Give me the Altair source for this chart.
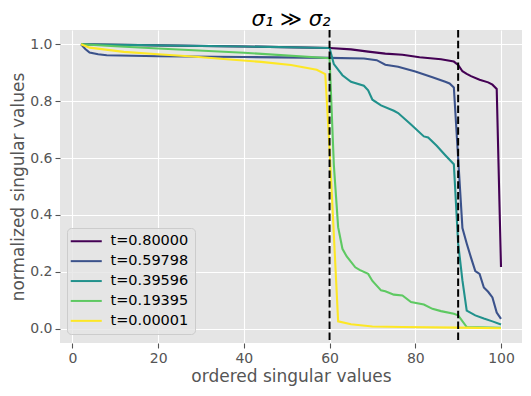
import altair as alt
import pandas as pd

# ---- data ----
labels = ["t=0.80000", "t=0.59798", "t=0.39596", "t=0.19395", "t=0.00001"]
colors = ["#440154", "#3b528b", "#21918c", "#5ec962", "#fde725"]

x_a = [2, 20, 40, 60, 65, 69, 73, 77, 81, 86, 89, 90, 91, 92, 93, 95, 97, 98, 99, 100]
y_a = [1.0, 0.996, 0.992, 0.987, 0.982, 0.974, 0.967, 0.963, 0.954, 0.947, 0.939, 0.927,
       0.905, 0.896, 0.888, 0.875, 0.866, 0.858, 0.843, 0.217]

x_b = [2, 3, 4, 6, 8, 20, 40, 60, 68, 71, 73, 76, 80, 84, 87, 88, 89, 90, 91, 92, 93,
       94, 95, 96, 97, 98, 99, 100]
y_b = [1.0, 0.983, 0.971, 0.965, 0.961, 0.958, 0.955, 0.952, 0.950, 0.944, 0.928, 0.921,
       0.904, 0.884, 0.868, 0.862, 0.848, 0.600, 0.354, 0.300, 0.250, 0.203, 0.193, 0.145,
       0.130, 0.110, 0.057, 0.035]

x_c = [2, 20, 40, 60, 61, 63, 65, 68, 69, 70, 72, 75, 76, 79, 82, 83, 85, 87, 89, 90,
       91, 92, 94, 96, 98, 100]
y_c = [1.0, 0.996, 0.992, 0.987, 0.930, 0.891, 0.868, 0.854, 0.838, 0.805, 0.785, 0.766,
       0.758, 0.718, 0.676, 0.672, 0.643, 0.610, 0.578, 0.300, 0.170, 0.064, 0.047, 0.036,
       0.026, 0.015]

x_d = [2, 10, 20, 40, 60, 61, 62, 63, 64, 66, 67, 69, 70, 72, 73, 75, 77, 79, 82, 84,
       86, 89, 90, 92, 100]
y_d = [1.0, 0.993, 0.985, 0.970, 0.951, 0.575, 0.357, 0.281, 0.254, 0.216, 0.207, 0.193,
       0.168, 0.135, 0.132, 0.120, 0.117, 0.094, 0.085, 0.070, 0.062, 0.053, 0.047, 0.006,
       0.003]

x_e = [2, 4, 12, 20, 28, 36, 44, 51, 57, 59, 60, 61, 62, 65, 70, 77, 90, 100]
y_e = [1.0, 0.988, 0.973, 0.965, 0.957, 0.947, 0.938, 0.927, 0.910, 0.895, 0.630, 0.330,
       0.026, 0.016, 0.008, 0.006, 0.004, 0.002]

vlines = [60, 90]

xs = [x_a, x_b, x_c, x_d, x_e]
ys = [y_a, y_b, y_c, y_d, y_e]

rows = []
for lab, xx, yy in zip(labels, xs, ys):
    for xv, yv in zip(xx, yy):
        rows.append({"x": xv, "y": yv, "series": lab})
df = pd.DataFrame(rows)
df_v = pd.DataFrame({"x": vlines})

FONT = "DejaVu Sans"

x_scale = alt.Scale(domain=[-2.9, 104.9], nice=False, zero=False)
y_scale = alt.Scale(domain=[-0.05, 1.05], nice=False, zero=False)

lines = alt.Chart(df).mark_line(strokeWidth=2.1).encode(
    x=alt.X("x:Q", scale=x_scale, title="ordered singular values",
            axis=alt.Axis(values=[0, 20, 40, 60, 80, 100])),
    y=alt.Y("y:Q", scale=y_scale, title="normalized singular values",
            axis=alt.Axis(values=[0.0, 0.2, 0.4, 0.6, 0.8, 1.0], format=".1f")),
    color=alt.Color("series:N",
                    scale=alt.Scale(domain=labels, range=colors),
                    title=None,
                    legend=alt.Legend(orient="none", legendX=7, legendY=198,
                                      symbolType="M-3,0H3", symbolSize=107,
                                      symbolStrokeWidth=2, symbolOffset=6,
                                      rowPadding=4.9,
                                      labelFontSize=14.5, labelColor="black",
                                      labelFont=FONT, labelOffset=17,
                                      fillColor="rgba(229,229,229,0.8)",
                                      strokeColor="#cccccc", cornerRadius=4,
                                      padding=6)),
    order=alt.Order("x:Q"),
)

rules = alt.Chart(df_v).mark_rule(color="black", strokeWidth=2,
                                  strokeDash=[7.5, 3.3]).encode(
    x=alt.X("x:Q", scale=x_scale),
)

chart = alt.layer(lines, rules).properties(
    width=462, height=313,
    title=alt.TitleParams("σ₁ ≫ σ₂", fontSize=21, font=FONT, fontStyle="italic",
                          fontWeight="normal", color="black", anchor="middle",
                          offset=4, dy=5),
    autosize=alt.AutoSizeParams(type="none"),
    padding={"left": 52, "top": 22, "right": 1, "bottom": 44},
).configure_view(
    fill="#E5E5E5", stroke=None,
).configure_axis(
    grid=True, gridColor="white", gridWidth=1.1,
    domain=False,
    tickColor="#555555", tickSize=5, tickWidth=1.1,
    labelColor="#555555", labelFont=FONT, labelFontSize=14, labelPadding=3,
    titleColor="#555555", titleFont=FONT, titleFontSize=17, titleFontWeight="normal",
).configure_axisX(
    titlePadding=3,
).configure_axisY(
    titlePadding=2,
)

chart.save("out.html", embed_options={"renderer": "svg", "actions": False})
